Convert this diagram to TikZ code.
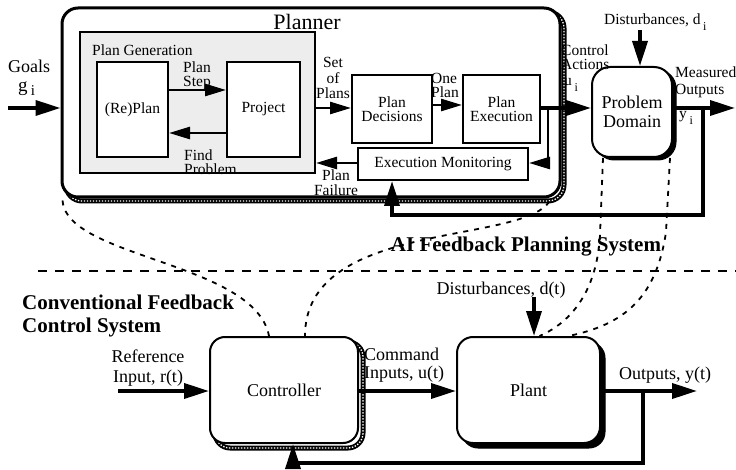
\documentclass[tikz,border=0pt]{standalone}
\usepackage{fontspec}
\setmainfont{Liberation Serif}
\usetikzlibrary{arrows.meta}
\begin{document}
\begin{tikzpicture}[x=1pt,y=-1pt,
 fs/.style={font=\fontsize{15.5}{14}\selectfont},
 fm/.style={font=\fontsize{18}{19}\selectfont},
 fb/.style={font=\fontsize{21}{23}\selectfont\bfseries},
 txt/.style={inner sep=0pt, align=center},
 blk/.style={draw, line width=2pt, fill=white, inner sep=0pt},
 rblk/.style={blk, rounded corners=16pt},
 arr/.style={line width=3.6pt, -{Triangle[length=25pt,width=15pt]}},
 arrs/.style={line width=2.6pt, -{Triangle[length=21pt,width=12pt]}},
 corr/.style={line width=1.8pt, dash pattern=on 5pt off 6pt},
 divider/.style={line width=2.6pt, dash pattern=on 9pt off 8pt},
 shband/.style={draw=black, line width=5pt, inner sep=0pt},
 shdots/.style={draw=white, line width=1.3pt, dash pattern=on 1.4pt off 1.6pt, inner sep=0pt},
 shsolid/.style={fill=black, draw=black, line width=1pt, inner sep=0pt}
]
\useasboundingbox (0,0) rectangle (736,470);

% ---------- Planner ----------
\node[shband, rounded corners=16pt, minimum width=498pt, minimum height=189pt] (plannersh) at (315,106.5) {};
\node[shdots, rounded corners=16pt, minimum width=498pt, minimum height=189pt] at (315,106.5) {};
\node[rblk, line width=3pt, minimum width=498pt, minimum height=189pt] (planner) at (311,102.5) {};
\node[txt, font=\fontsize{22}{22}\selectfont] (plannerlbl) at (307,22) {Planner};

\node[blk, fill=black!7, minimum width=235pt, minimum height=141pt] (plangen) at (197.5,102.5) {};
\node[txt, fs, anchor=west] (pglbl) at (92,50) {Plan Generation};
\node[blk, minimum width=71pt, minimum height=95pt, fs] (replan) at (132.5,109.5) {(Re)Plan};
\node[blk, minimum width=73pt, minimum height=95pt, fs] (project) at (263.5,109.5) {Project};
\node[blk, minimum width=80pt, minimum height=68pt, fs, align=center] (decisions) at (392,109) {Plan\\Decisions};
\node[blk, minimum width=77pt, minimum height=68pt, fs, align=center] (execution) at (501.5,109) {Plan\\Execution};
\node[blk, minimum width=170pt, minimum height=32pt, fs] (monitor) at (443,164) {Execution Monitoring};

% ---------- Problem domain ----------
\node[shsolid, rounded corners=18pt, minimum width=80pt, minimum height=90pt] (domainsh) at (636,115) {};
\node[rblk, rounded corners=18pt, minimum width=80pt, minimum height=90pt, fm, align=center] (domain) at (632,112) {Problem\\Domain};

% ---------- labels top ----------
\node[txt, font=\fontsize{18}{18}\selectfont, anchor=west] (goals) at (8,66) {Goals};
\node[txt, font=\fontsize{19}{19}\selectfont, anchor=west] (gi) at (18,89) {g\,\raisebox{-4pt}{\fontsize{15}{15}\selectfont i}};
\node[txt, fs] (pslbl) at (197,76) {Plan\\Step};
\node[txt, fs, align=left, anchor=west] (fplbl) at (184,162) {Find\\Problem};
\node[txt, font=\fontsize{15.5}{15.5}\selectfont] (soplbl) at (333,78) {Set\\of\\Plans};
\node[txt, fs, align=left, anchor=west] (oplbl) at (431,85) {One\\Plan};
\node[txt, font=\fontsize{15.5}{15}\selectfont] (pflbl) at (336,183) {Plan\\Failure};
\node[txt, fs, align=left, anchor=west] (calbl) at (561,57) {Control\\Actions};
\node[txt, fs, anchor=west] (uilbl) at (564,85) {u\,\raisebox{-6pt}{\fontsize{12}{12}\selectfont i}};
\node[txt, fs, anchor=west] (dilbl) at (604,22) {Disturbances, d\,\raisebox{-6pt}{\fontsize{12}{12}\selectfont i}};
\node[txt, align=left, anchor=west, font=\fontsize{15.5}{17}\selectfont] (molbl) at (675,82) {Measured\\Outputs};
\node[txt, fs, anchor=west] (yilbl) at (679,118) {y\,\raisebox{-6pt}{\fontsize{12}{12}\selectfont i}};

% ---------- top connectors ----------
\coordinate (goalstart) at (8,108);
\draw[arr] (goalstart) -- (goalstart -| planner.west);
\draw[arrs] (replan.east |- 0,90) -- (project.west |- 0,90);
\draw[arrs] (project.west |- 0,133) -- (replan.east |- 0,133);
\draw[arrs] (plangen.east |- 0,108) -- (decisions.west |- 0,108);
\draw[arrs] (decisions.east |- 0,105) -- (execution.west |- 0,105);
\draw[arrs] (monitor.west |- 0,163) -- (plangen.east |- 0,163);
\draw[arr] (execution.east |- 0,108) -- (domain.west |- 0,108);
\coordinate (branch) at (548,108);
\draw[arrs] (branch) |- (monitor.east |- 0,163);
\coordinate (distop) at (640,30);
\draw[arr] (distop) -- (distop |- domain.north);
\coordinate (mout) at (735,108);
\draw[arr] (domain.east |- mout) -- (mout);
\coordinate (ytap) at (703,108);
\coordinate (fbcorner) at (392,215);
\draw[arr] (ytap) |- (fbcorner) -- (fbcorner |- monitor.south);

% ---------- bottom: conventional ----------
\node[shband, rounded corners=15pt, minimum width=148pt, minimum height=106pt] (controllersh) at (289,395) {};
\node[shdots, rounded corners=15pt, minimum width=148pt, minimum height=106pt] at (289,395) {};
\node[rblk, rounded corners=15pt, minimum width=148pt, minimum height=106pt, fm] (controller) at (284,390) {Controller};

\node[shsolid, rounded corners=16pt, minimum width=143pt, minimum height=106pt] (plantsh) at (533.5,395) {};
\node[rblk, minimum width=143pt, minimum height=106pt, fm] (plant) at (528.5,390) {Plant};

\node[txt, font=\fontsize{18}{20}\selectfont] (reflbl) at (148,368) {Reference\\Input, r(t)};
\node[txt, align=left, anchor=west, font=\fontsize{18}{18}\selectfont] (cmdlbl) at (364,365) {Command\\Inputs, u(t)};
\node[txt, fm] (dtlbl) at (501,290) {Disturbances, d(t)};
\node[txt, fm] (outlbl) at (665,375) {Outputs, y(t)};

\coordinate (refstart) at (118,391);
\draw[arr] (refstart) -- (refstart -| controller.west);
\draw[arr] (controller.east |- 0,391) -- (plant.west |- 0,391);
\coordinate (dtstart) at (534,297);
\draw[arr] (dtstart) -- (dtstart |- plant.north);
\coordinate (outend) at (697,391);
\draw[arr] (plant.east |- outend) -- (outend);
\coordinate (otap) at (643,391);
\coordinate (fb2corner) at (293,463);
\draw[arr] (otap) |- (fb2corner) -- (fb2corner |- controller.south);

% ---------- divider and titles ----------
\coordinate (divL) at (38,271);
\coordinate (divR) at (736,271);
\draw[divider] (divL) -- (divR);
\node[txt, fb] (aititle) at (526,247) {AI Feedback Planning System};
\node[txt, fb, align=left, anchor=west] (convtitle) at (22,316) {Conventional Feedback\\Control System};

% ---------- correspondence curves ----------
\draw[corr] ([shift={(2pt,-2pt)}]planner.south west) .. controls (66,258) and (255,262) .. ([xshift=-15pt]controller.north);
\draw[corr] ([shift={(-12pt,-3pt)}]planner.south east) .. controls (520,245) and (305,220) .. ([xshift=21pt]controller.north);
\draw[corr] ([xshift=-29pt]domain.south) -- (600,235) .. controls (597,290) and (572,322) .. ([xshift=11pt]plant.north);
\draw[corr] ([xshift=38pt]domain.south) -- (666,232) .. controls (656,300) and (622,325) .. ([xshift=40pt]plant.north);
\end{tikzpicture}
\end{document}
